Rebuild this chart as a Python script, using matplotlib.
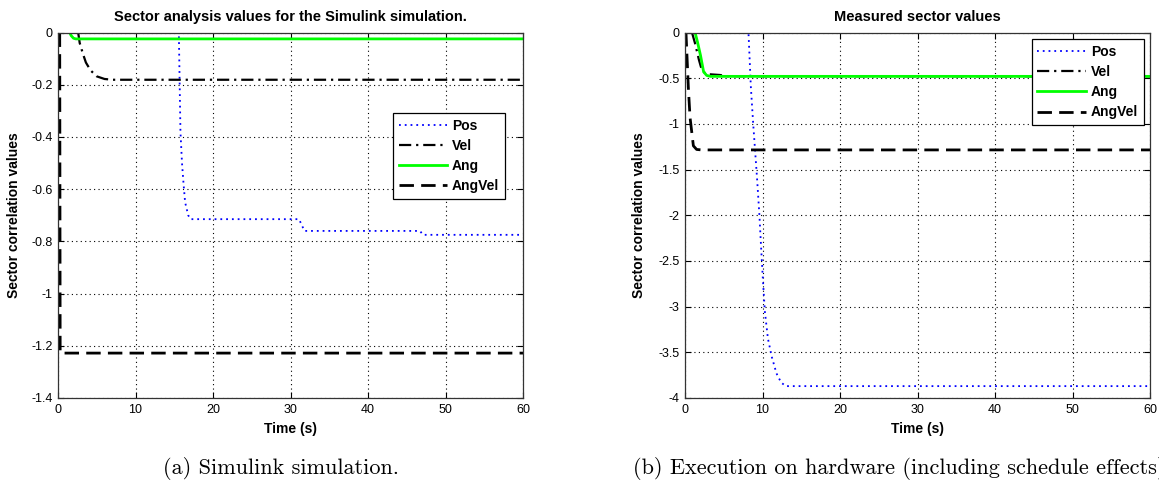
import matplotlib
matplotlib.use("Agg")
import matplotlib.pyplot as plt
from matplotlib.ticker import FuncFormatter

plt.rcParams['font.family'] = ['Liberation Sans', 'DejaVu Sans']
plt.rcParams['axes.unicode_minus'] = False

# ---------------- data: Simulink simulation (a) ----------------
sim_pos_t = [15.6, 15.7, 15.8, 16.0, 16.2, 16.4, 16.8, 17.1, 31.1, 31.8, 46.7, 47.1, 60]
sim_pos_v = [-0.015, -0.2, -0.38, -0.5, -0.58, -0.65, -0.70, -0.715, -0.715, -0.76, -0.76, -0.775, -0.775]
sim_vel_t = [2.6, 2.8, 3.2, 3.6, 4.2, 5.0, 6.0, 7.0, 60]
sim_vel_v = [0.0, -0.04, -0.08, -0.115, -0.145, -0.168, -0.178, -0.181, -0.181]
sim_ang_t = [1.5, 1.7, 2.0, 2.3, 60]
sim_ang_v = [0.0, -0.012, -0.022, -0.0245, -0.0245]
sim_angvel_t = [0.22, 0.28, 60]
sim_angvel_v = [0.0, -1.228, -1.228]

# ---------------- data: hardware execution (b) ----------------
hw_pos_t = [8.2, 8.5, 8.8, 9.3, 9.6, 9.85, 10.05, 10.3, 10.7, 11.2, 11.8, 12.4, 13.0, 60]
hw_pos_v = [-0.02, -0.6, -1.0, -1.6, -2.0, -2.4, -2.7, -3.05, -3.35, -3.55, -3.73, -3.83, -3.87, -3.87]
hw_vel_t = [0.9, 1.3, 1.8, 2.2, 2.8, 4.5, 5.5, 60]
hw_vel_v = [0.0, -0.12, -0.30, -0.42, -0.455, -0.465, -0.478, -0.48]
hw_ang_t = [1.3, 1.6, 2.0, 2.4, 2.8, 3.3, 60]
hw_ang_v = [0.0, -0.10, -0.25, -0.43, -0.47, -0.48, -0.48]
hw_angvel_t = [0.0, 0.13, 0.43, 0.65, 1.08, 1.5, 2.15, 60]
hw_angvel_v = [0.0, -0.01, -0.6, -0.93, -1.24, -1.28, -1.285, -1.285]

labels = ['Pos', 'Vel', 'Ang', 'AngVel']
titles = ['Sector analysis values for the Simulink simulation.', 'Measured sector values']
captions = ['(a) Simulink simulation.', '(b) Execution on hardware (including schedule effects)']
x_ticks = [0, 10, 20, 30, 40, 50, 60]
y_ticks_a = [0, -0.2, -0.4, -0.6, -0.8, -1.0, -1.2, -1.4]
y_ticks_b = [0, -0.5, -1.0, -1.5, -2.0, -2.5, -3.0, -3.5, -4.0]

W, H = 1159, 484
fig = plt.figure(figsize=(W / 100, H / 100), dpi=100)

def fmt(v, pos=None):
    return '%g' % v

def make_axes(left_px, series, yticks, title, leg_anchor, ylab_x):
    ax = fig.add_axes([left_px / W, (H - 398) / H, 465 / W, 365.5 / H])
    (pt, pv), (vt, vv), (at, av), (avt, avv) = series
    ax.plot(pt, pv, color='#0000ff', lw=1.3, linestyle=(0, (1, 2.2)), label=labels[0])
    ax.plot(vt, vv, color='black', lw=1.6, linestyle=(0, (5.5, 2.2, 1, 2.2)), label=labels[1])
    ax.plot(at, av, color='#00ff00', lw=2.0, linestyle='-', label=labels[2])
    ax.plot(avt, avv, color='black', lw=2.0, linestyle=(0, (5.2, 2.6)), label=labels[3])
    ax.set_xlim(0, 60)
    ax.set_ylim(min(yticks), 0)
    ax.set_xticks(x_ticks)
    ax.set_yticks(yticks)
    ax.yaxis.set_major_formatter(FuncFormatter(fmt))
    ax.xaxis.set_major_formatter(FuncFormatter(fmt))
    ax.tick_params(direction='in', length=4, width=0.8, top=True, right=True,
                   labelsize=9, colors='black', pad=4)
    ax.grid(True, linestyle=(0, (1, 3)), color='black', linewidth=0.8)
    for sp in ax.spines.values():
        sp.set_linewidth(0.9)
        sp.set_color('#333333')
    ax.set_title(title, fontsize=10.5, fontweight='bold', pad=8)
    ax.set_xlabel('Time (s)', fontsize=10, fontweight='bold')
    ax.set_ylabel('Sector correlation values', fontsize=10, fontweight='bold')
    ax.xaxis.set_label_coords(0.5, -0.0643)
    ax.yaxis.set_label_coords(ylab_x, 0.5)
    leg = ax.legend(loc='upper left', bbox_to_anchor=leg_anchor, fancybox=False,
                    edgecolor='black', framealpha=1, prop={'weight': 'bold', 'size': 10},
                    handlelength=3.5, handletextpad=0.35, labelspacing=0.45,
                    borderpad=0.4, borderaxespad=0)
    leg.get_frame().set_linewidth(0.9)
    return ax

ax1 = make_axes(58, [(sim_pos_t, sim_pos_v), (sim_vel_t, sim_vel_v),
                     (sim_ang_t, sim_ang_v), (sim_angvel_t, sim_angvel_v)],
                y_ticks_a, titles[0], (0.7204, 0.7798), -0.0785)
ax2 = make_axes(685, [(hw_pos_t, hw_pos_v), (hw_vel_t, hw_vel_v),
                      (hw_ang_t, hw_ang_v), (hw_angvel_t, hw_angvel_v)],
                y_ticks_b, titles[1], (0.746, 0.982), -0.0828)

fig.text(281 / W, 1 - 468 / H, captions[0], ha='center', va='center',
         family=['cmr10', 'DejaVu Serif'], fontsize=16)
fig.text(633 / W, 1 - 468 / H, captions[1], ha='left', va='center',
         family=['cmr10', 'DejaVu Serif'], fontsize=16)

fig.savefig('out.png', dpi=100)
